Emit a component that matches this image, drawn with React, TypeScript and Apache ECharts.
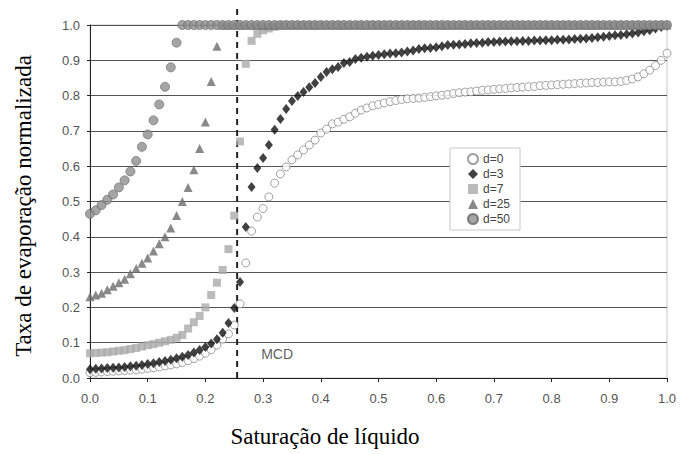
import React, { useEffect, useRef } from "react";
import * as echarts from "echarts";

// Saturação de líquido (x)
const saturation = [
  0.00, 0.01, 0.02, 0.03, 0.04, 0.05, 0.06, 0.07, 0.08, 0.09,
  0.10, 0.11, 0.12, 0.13, 0.14, 0.15, 0.16, 0.17, 0.18, 0.19,
  0.20, 0.21, 0.22, 0.23, 0.24, 0.25, 0.26, 0.27, 0.28, 0.29,
  0.30, 0.31, 0.32, 0.33, 0.34, 0.35, 0.36, 0.37, 0.38, 0.39,
  0.40, 0.41, 0.42, 0.43, 0.44, 0.45, 0.46, 0.47, 0.48, 0.49,
  0.50, 0.51, 0.52, 0.53, 0.54, 0.55, 0.56, 0.57, 0.58, 0.59,
  0.60, 0.61, 0.62, 0.63, 0.64, 0.65, 0.66, 0.67, 0.68, 0.69,
  0.70, 0.71, 0.72, 0.73, 0.74, 0.75, 0.76, 0.77, 0.78, 0.79,
  0.80, 0.81, 0.82, 0.83, 0.84, 0.85, 0.86, 0.87, 0.88, 0.89,
  0.90, 0.91, 0.92, 0.93, 0.94, 0.95, 0.96, 0.97, 0.98, 0.99,
  1.00,
];

const d0 = [
  0.015, 0.016, 0.017, 0.018, 0.019, 0.020, 0.021, 0.022, 0.023, 0.025,
  0.027, 0.029, 0.031, 0.034, 0.037, 0.040, 0.044, 0.049, 0.055, 0.062,
  0.070, 0.080, 0.093, 0.110, 0.125, 0.150, 0.210, 0.326, 0.416, 0.456,
  0.480, 0.513, 0.552, 0.578, 0.598, 0.618, 0.632, 0.646, 0.660, 0.674,
  0.694, 0.705, 0.720, 0.725, 0.733, 0.740, 0.750, 0.759, 0.765, 0.771,
  0.775, 0.779, 0.783, 0.786, 0.789, 0.791, 0.792, 0.793, 0.795, 0.797,
  0.799, 0.801, 0.803, 0.806, 0.808, 0.810, 0.811, 0.813, 0.815, 0.816,
  0.818, 0.819, 0.820, 0.822, 0.823, 0.824, 0.825, 0.826, 0.828, 0.829,
  0.830, 0.831, 0.832, 0.833, 0.834, 0.835, 0.836, 0.837, 0.837, 0.838,
  0.839, 0.839, 0.840, 0.843, 0.847, 0.853, 0.862, 0.872, 0.885, 0.900,
  0.920,
];

const d3 = [
  0.025, 0.026, 0.027, 0.028, 0.029, 0.030, 0.031, 0.033, 0.035, 0.037,
  0.040, 0.042, 0.045, 0.048, 0.052, 0.056, 0.060, 0.065, 0.072, 0.079,
  0.088, 0.098, 0.110, 0.128, 0.156, 0.198, 0.272, 0.428, 0.541, 0.595,
  0.623, 0.660, 0.703, 0.734, 0.762, 0.785, 0.799, 0.810, 0.824, 0.836,
  0.853, 0.867, 0.875, 0.881, 0.892, 0.895, 0.904, 0.907, 0.910, 0.913,
  0.915, 0.917, 0.919, 0.920, 0.922, 0.925, 0.928, 0.932, 0.934, 0.935,
  0.937, 0.940, 0.943, 0.944, 0.945, 0.946, 0.948, 0.949, 0.950, 0.952,
  0.952, 0.953, 0.953, 0.954, 0.954, 0.955, 0.955, 0.956, 0.956, 0.957,
  0.957, 0.958, 0.958, 0.959, 0.960, 0.961, 0.962, 0.963, 0.965, 0.967,
  0.969, 0.971, 0.972, 0.974, 0.976, 0.979, 0.982, 0.985, 0.990, 0.994,
  0.998,
];

const d7 = [
  0.070, 0.071, 0.072, 0.073, 0.075, 0.077, 0.079, 0.082, 0.085, 0.089,
  0.093, 0.096, 0.100, 0.104, 0.108, 0.114, 0.122, 0.140, 0.158, 0.176,
  0.200, 0.235, 0.270, 0.306, 0.365, 0.460, 0.670, 0.890, 0.955, 0.975,
  0.985, 0.990, 0.995, 1.0, 1.0, 1.0, 1.0, 1.0, 1.0, 1.0,
  1.0, 1.0, 1.0, 1.0, 1.0, 1.0, 1.0, 1.0, 1.0, 1.0,
  1.0, 1.0, 1.0, 1.0, 1.0, 1.0, 1.0, 1.0, 1.0, 1.0,
  1.0, 1.0, 1.0, 1.0, 1.0, 1.0, 1.0, 1.0, 1.0, 1.0,
  1.0, 1.0, 1.0, 1.0, 1.0, 1.0, 1.0, 1.0, 1.0, 1.0,
  1.0, 1.0, 1.0, 1.0, 1.0, 1.0, 1.0, 1.0, 1.0, 1.0,
  1.0, 1.0, 1.0, 1.0, 1.0, 1.0, 1.0, 1.0, 1.0, 1.0,
  1.0,
];

const d25 = [
  0.230, 0.235, 0.240, 0.250, 0.260, 0.270, 0.280, 0.295, 0.310, 0.325,
  0.340, 0.360, 0.380, 0.400, 0.425, 0.460, 0.500, 0.540, 0.590, 0.650,
  0.725, 0.840, 0.940, 1.0, 1.0, 1.0, 1.0, 1.0, 1.0, 1.0,
  1.0, 1.0, 1.0, 1.0, 1.0, 1.0, 1.0, 1.0, 1.0, 1.0,
  1.0, 1.0, 1.0, 1.0, 1.0, 1.0, 1.0, 1.0, 1.0, 1.0,
  1.0, 1.0, 1.0, 1.0, 1.0, 1.0, 1.0, 1.0, 1.0, 1.0,
  1.0, 1.0, 1.0, 1.0, 1.0, 1.0, 1.0, 1.0, 1.0, 1.0,
  1.0, 1.0, 1.0, 1.0, 1.0, 1.0, 1.0, 1.0, 1.0, 1.0,
  1.0, 1.0, 1.0, 1.0, 1.0, 1.0, 1.0, 1.0, 1.0, 1.0,
  1.0, 1.0, 1.0, 1.0, 1.0, 1.0, 1.0, 1.0, 1.0, 1.0,
  1.0,
];

const d50 = [
  0.465, 0.475, 0.490, 0.505, 0.520, 0.540, 0.560, 0.585, 0.615, 0.655,
  0.690, 0.730, 0.775, 0.825, 0.880, 0.950, 1.0, 1.0, 1.0, 1.0,
  1.0, 1.0, 1.0, 1.0, 1.0, 1.0, 1.0, 1.0, 1.0, 1.0,
  1.0, 1.0, 1.0, 1.0, 1.0, 1.0, 1.0, 1.0, 1.0, 1.0,
  1.0, 1.0, 1.0, 1.0, 1.0, 1.0, 1.0, 1.0, 1.0, 1.0,
  1.0, 1.0, 1.0, 1.0, 1.0, 1.0, 1.0, 1.0, 1.0, 1.0,
  1.0, 1.0, 1.0, 1.0, 1.0, 1.0, 1.0, 1.0, 1.0, 1.0,
  1.0, 1.0, 1.0, 1.0, 1.0, 1.0, 1.0, 1.0, 1.0, 1.0,
  1.0, 1.0, 1.0, 1.0, 1.0, 1.0, 1.0, 1.0, 1.0, 1.0,
  1.0, 1.0, 1.0, 1.0, 1.0, 1.0, 1.0, 1.0, 1.0, 1.0,
  1.0,
];

const seriesNames = ["d=0", "d=3", "d=7", "d=25", "d=50"];

// MCD marker
const mcdX = 0.255;
const mcdLineY = [0, 1.055];
const mcdLabelY = 0.068;

const xTitle = "Saturação de líquido";
const yTitle = "Taxa de evaporação normalizada";

const zip = (ys: number[]) => saturation.map((x, i) => [x, ys[i]]);

export default function App() {
  const ref = useRef<HTMLDivElement>(null);

  useEffect(() => {
    document.body.style.margin = "0";
    if (!ref.current) return;
    const chart = echarts.init(ref.current, undefined, { renderer: "svg" });
    const sans = "Liberation Sans, Arial, sans-serif";
    const serif = "Liberation Serif, Times New Roman, serif";

    chart.setOption({
      animation: false,
      backgroundColor: "#fff",
      grid: {
        left: 90,
        right: 14,
        top: 25,
        bottom: 76,
        show: true,
        borderColor: "#c8c8c8",
        borderWidth: 1,
        backgroundColor: "transparent",
      },
      xAxis: {
        type: "value",
        min: 0,
        max: 1,
        interval: 0.1,
        axisLine: { show: true, lineStyle: { color: "#222", width: 1 } },
        axisTick: { show: true, length: 4, lineStyle: { color: "#222" } },
        axisLabel: {
          formatter: (v: number) => v.toFixed(1),
          color: "#555",
          fontFamily: sans,
          fontSize: 13,
          margin: 14,
        },
        splitLine: { show: false },
      },
      yAxis: {
        type: "value",
        min: 0,
        max: 1,
        interval: 0.1,
        axisLine: { show: true, lineStyle: { color: "#222", width: 1 } },
        axisTick: { show: true, length: 3, lineStyle: { color: "#222" } },
        axisLabel: {
          formatter: (v: number) => v.toFixed(1),
          color: "#555",
          fontFamily: sans,
          fontSize: 13,
          margin: 10,
        },
        splitLine: { show: true, lineStyle: { color: "#555", width: 1 } },
      },
      legend: {
        data: seriesNames,
        orient: "vertical",
        left: 450,
        top: 148,
        itemWidth: 10,
        itemHeight: 10,
        itemGap: 3,
        padding: [5, 10, 5, 17],
        backgroundColor: "#fff",
        borderColor: "#c8c8c8",
        borderWidth: 1,
        textStyle: { fontSize: 12, color: "#444", fontFamily: sans },
      },
      graphic: [
        {
          type: "text",
          x: 325,
          y: 436,
          style: {
            text: xTitle,
            font: `23px ${serif}`,
            fill: "#000",
            textAlign: "center",
            textVerticalAlign: "middle",
          },
        },
        {
          type: "text",
          x: 23,
          y: 206,
          rotation: Math.PI / 2,
          style: {
            text: yTitle,
            font: `23px ${serif}`,
            fill: "#000",
            textAlign: "center",
            textVerticalAlign: "middle",
          },
        },
      ],
      series: [
        {
          name: "MCD line",
          type: "line",
          data: mcdLineY.map((y) => [mcdX, y]),
          symbol: "none",
          clip: false,
          silent: true,
          z: 1,
          lineStyle: { color: "#222", width: 2, type: [6, 5] },
        },
        {
          name: "d=0",
          type: "scatter",
          data: zip(d0),
          symbol: "circle",
          symbolSize: 8,
          z: 2,
          itemStyle: { color: "#fff", borderColor: "#8a8a8a", borderWidth: 1 },
        },
        {
          name: "d=3",
          type: "scatter",
          data: zip(d3),
          symbol: "diamond",
          symbolSize: [8, 10],
          z: 3,
          itemStyle: { color: "#111" },
        },
        {
          name: "d=7",
          type: "scatter",
          data: zip(d7),
          symbol: "rect",
          symbolSize: 8,
          z: 4,
          itemStyle: { color: "#aaaaaa" },
        },
        {
          name: "d=25",
          type: "scatter",
          data: zip(d25),
          symbol: "triangle",
          symbolSize: 9,
          z: 5,
          itemStyle: { color: "#6b6b6b" },
        },
        {
          name: "d=50",
          type: "scatter",
          data: zip(d50),
          symbol: "circle",
          symbolSize: 9,
          z: 6,
          itemStyle: { color: "#8e8e8e", borderColor: "#666", borderWidth: 0.8 },
        },
        {
          name: "MCD label",
          type: "scatter",
          data: [[mcdX, mcdLabelY]],
          symbolSize: 0,
          silent: true,
          label: {
            show: true,
            formatter: "MCD",
            position: "right",
            distance: 24,
            color: "#333",
            fontSize: 14,
            fontFamily: sans,
          },
        },
      ],
    });

    return () => chart.dispose();
  }, []);

  return <div ref={ref} style={{ width: 681, height: 454 }} />;
}
